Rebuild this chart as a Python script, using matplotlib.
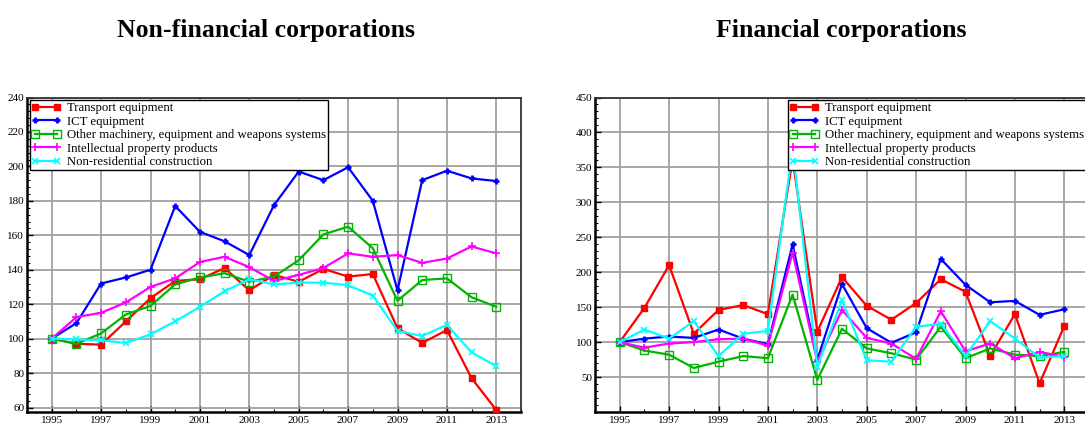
import matplotlib
matplotlib.use("Agg")
import matplotlib.pyplot as plt
from matplotlib.ticker import MultipleLocator

years = list(range(1995, 2014))

series_names = ["Transport equipment", "ICT equipment",
                "Other machinery, equipment and weapons systems",
                "Intellectual property products", "Non-residential construction"]

# Non-financial corporations
nf_transport = [100, 97, 96.5, 110, 123.5, 133.5, 134.5, 141, 128, 137, 133, 140.5, 136, 137.5, 106, 97.5, 105, 77, 58.5]
nf_ict = [100, 109, 132, 135.5, 140, 177, 162, 156.5, 148.5, 177.5, 197, 192, 199.5, 180, 128, 192, 197.5, 193, 191.5]
nf_machinery = [100, 97, 103, 114, 119, 131.5, 135.5, 138, 133, 136, 145.5, 160.5, 165, 152.5, 122, 134, 135, 124, 118.5]
nf_ipp = [100, 112.5, 115, 121, 130, 135, 144.5, 147.5, 141.5, 133.5, 137, 141, 149.5, 147.5, 148.5, 144, 146.5, 153.5, 149.5]
nf_construction = [100, 99.5, 99, 97.5, 102.5, 110, 118.5, 127.5, 134.5, 131.5, 132.5, 132.5, 131, 125, 104.5, 101.5, 108, 92, 84]

# Financial corporations
f_transport = [100, 149, 210, 112, 146, 153, 140, 362, 115, 193, 152, 132, 156, 190, 172, 80, 140, 41, 123]
f_ict = [100, 105, 108, 106, 118, 105, 97, 240, 75, 183, 120, 99, 114, 219, 182, 157, 159, 139, 147]
f_machinery = [100, 88, 82, 63, 72, 80, 77, 168, 46, 119, 91, 84, 75, 122, 77, 91, 82, 80, 86]
f_ipp = [100, 92, 98, 100, 104, 105, 95, 228, 72, 146, 106, 98, 76, 144, 87, 98, 77, 86, 79]
f_construction = [100, 118, 105, 130, 80, 112, 116, 377, 65, 160, 74, 72, 122, 126, 80, 130, 105, 78, 80]

titles = ["Non-financial corporations", "Financial corporations"]
xticks = list(range(1995, 2014, 2))

colors = ["#ff0000", "#0000ff", "#00b400", "#ff00ff", "#00ffff"]
markers = ["s", "+", "s", "+", "x"]
mfc = ["#ff0000", "#0000ff", "none", "#ff00ff", "#00ffff"]
msz = [5, 5, 6, 6, 5]
mew = [1, 2, 1, 1.2, 1.2]

serif = ["Liberation Serif", "DejaVu Serif"]

fig = plt.figure(figsize=(10.85, 4.24), dpi=100)
W, H = 1085, 424
ax1 = fig.add_axes([27 / W, 1 - 412 / H, 494 / W, (412 - 97.5) / H])
ax2 = fig.add_axes([595 / W, 1 - 412 / H, 494 / W, (412 - 97.5) / H])

data_sets = [
    [nf_transport, nf_ict, nf_machinery, nf_ipp, nf_construction],
    [f_transport, f_ict, f_machinery, f_ipp, f_construction],
]

for ax, sets in zip([ax1, ax2], data_sets):
    for i, vals in enumerate(sets):
        ax.plot(years, vals, color=colors[i], lw=1.6, marker=markers[i],
                markersize=msz[i], markerfacecolor=mfc[i], markeredgecolor=colors[i],
                markeredgewidth=mew[i], label=series_names[i], zorder=3)
    ax.set_xlim(1994, 2014)
    ax.set_xticks(xticks)
    ax.set_xticklabels([str(y) for y in xticks])
    ax.xaxis.set_minor_locator(MultipleLocator(1))
    ax.grid(True, which="major", color="#a0a0a0", lw=1.3, zorder=0)
    ax.tick_params(which="both", direction="in", labelsize=8, pad=2, color="black")
    ax.tick_params(axis="x", which="major", pad=3)
    ax.tick_params(which="major", length=4, width=1)
    ax.tick_params(which="minor", length=2.5, width=0.8)
    for s in ["left", "bottom"]:
        ax.spines[s].set_linewidth(1.8)
        ax.spines[s].set_color("black")
    for s in ["top", "right"]:
        ax.spines[s].set_linewidth(1.3)
        ax.spines[s].set_color("#333333")

ax1.set_ylim(57.4, 240)
ax1.set_yticks(range(60, 241, 20))
ax1.yaxis.set_minor_locator(MultipleLocator(4))
ax2.set_ylim(0, 450)
ax2.set_yticks(range(50, 451, 50))
ax2.yaxis.set_minor_locator(MultipleLocator(10))
for ax in (ax1, ax2):
    for lab in ax.get_xticklabels() + ax.get_yticklabels():
        lab.set_family(serif)

leg_kw = dict(prop={"family": serif, "size": 9.2}, frameon=True, fancybox=False,
              edgecolor="black", framealpha=1, borderpad=0.15, labelspacing=0.12,
              handlelength=2.3, handletextpad=0.5, borderaxespad=0.2, numpoints=2)
l1 = ax1.legend(loc="upper left", **leg_kw)
l2 = ax2.legend(loc="upper right", **leg_kw)
for l in (l1, l2):
    l.get_frame().set_linewidth(1.0)

fig.text(266 / W, 1 - 36.7 / H, titles[0], ha="center", va="baseline",
         fontsize=18.5, fontweight="bold", family=serif)
fig.text(841 / W, 1 - 36.7 / H, titles[1], ha="center", va="baseline",
         fontsize=18.5, fontweight="bold", family=serif)

fig.savefig("out.png", dpi=100)
